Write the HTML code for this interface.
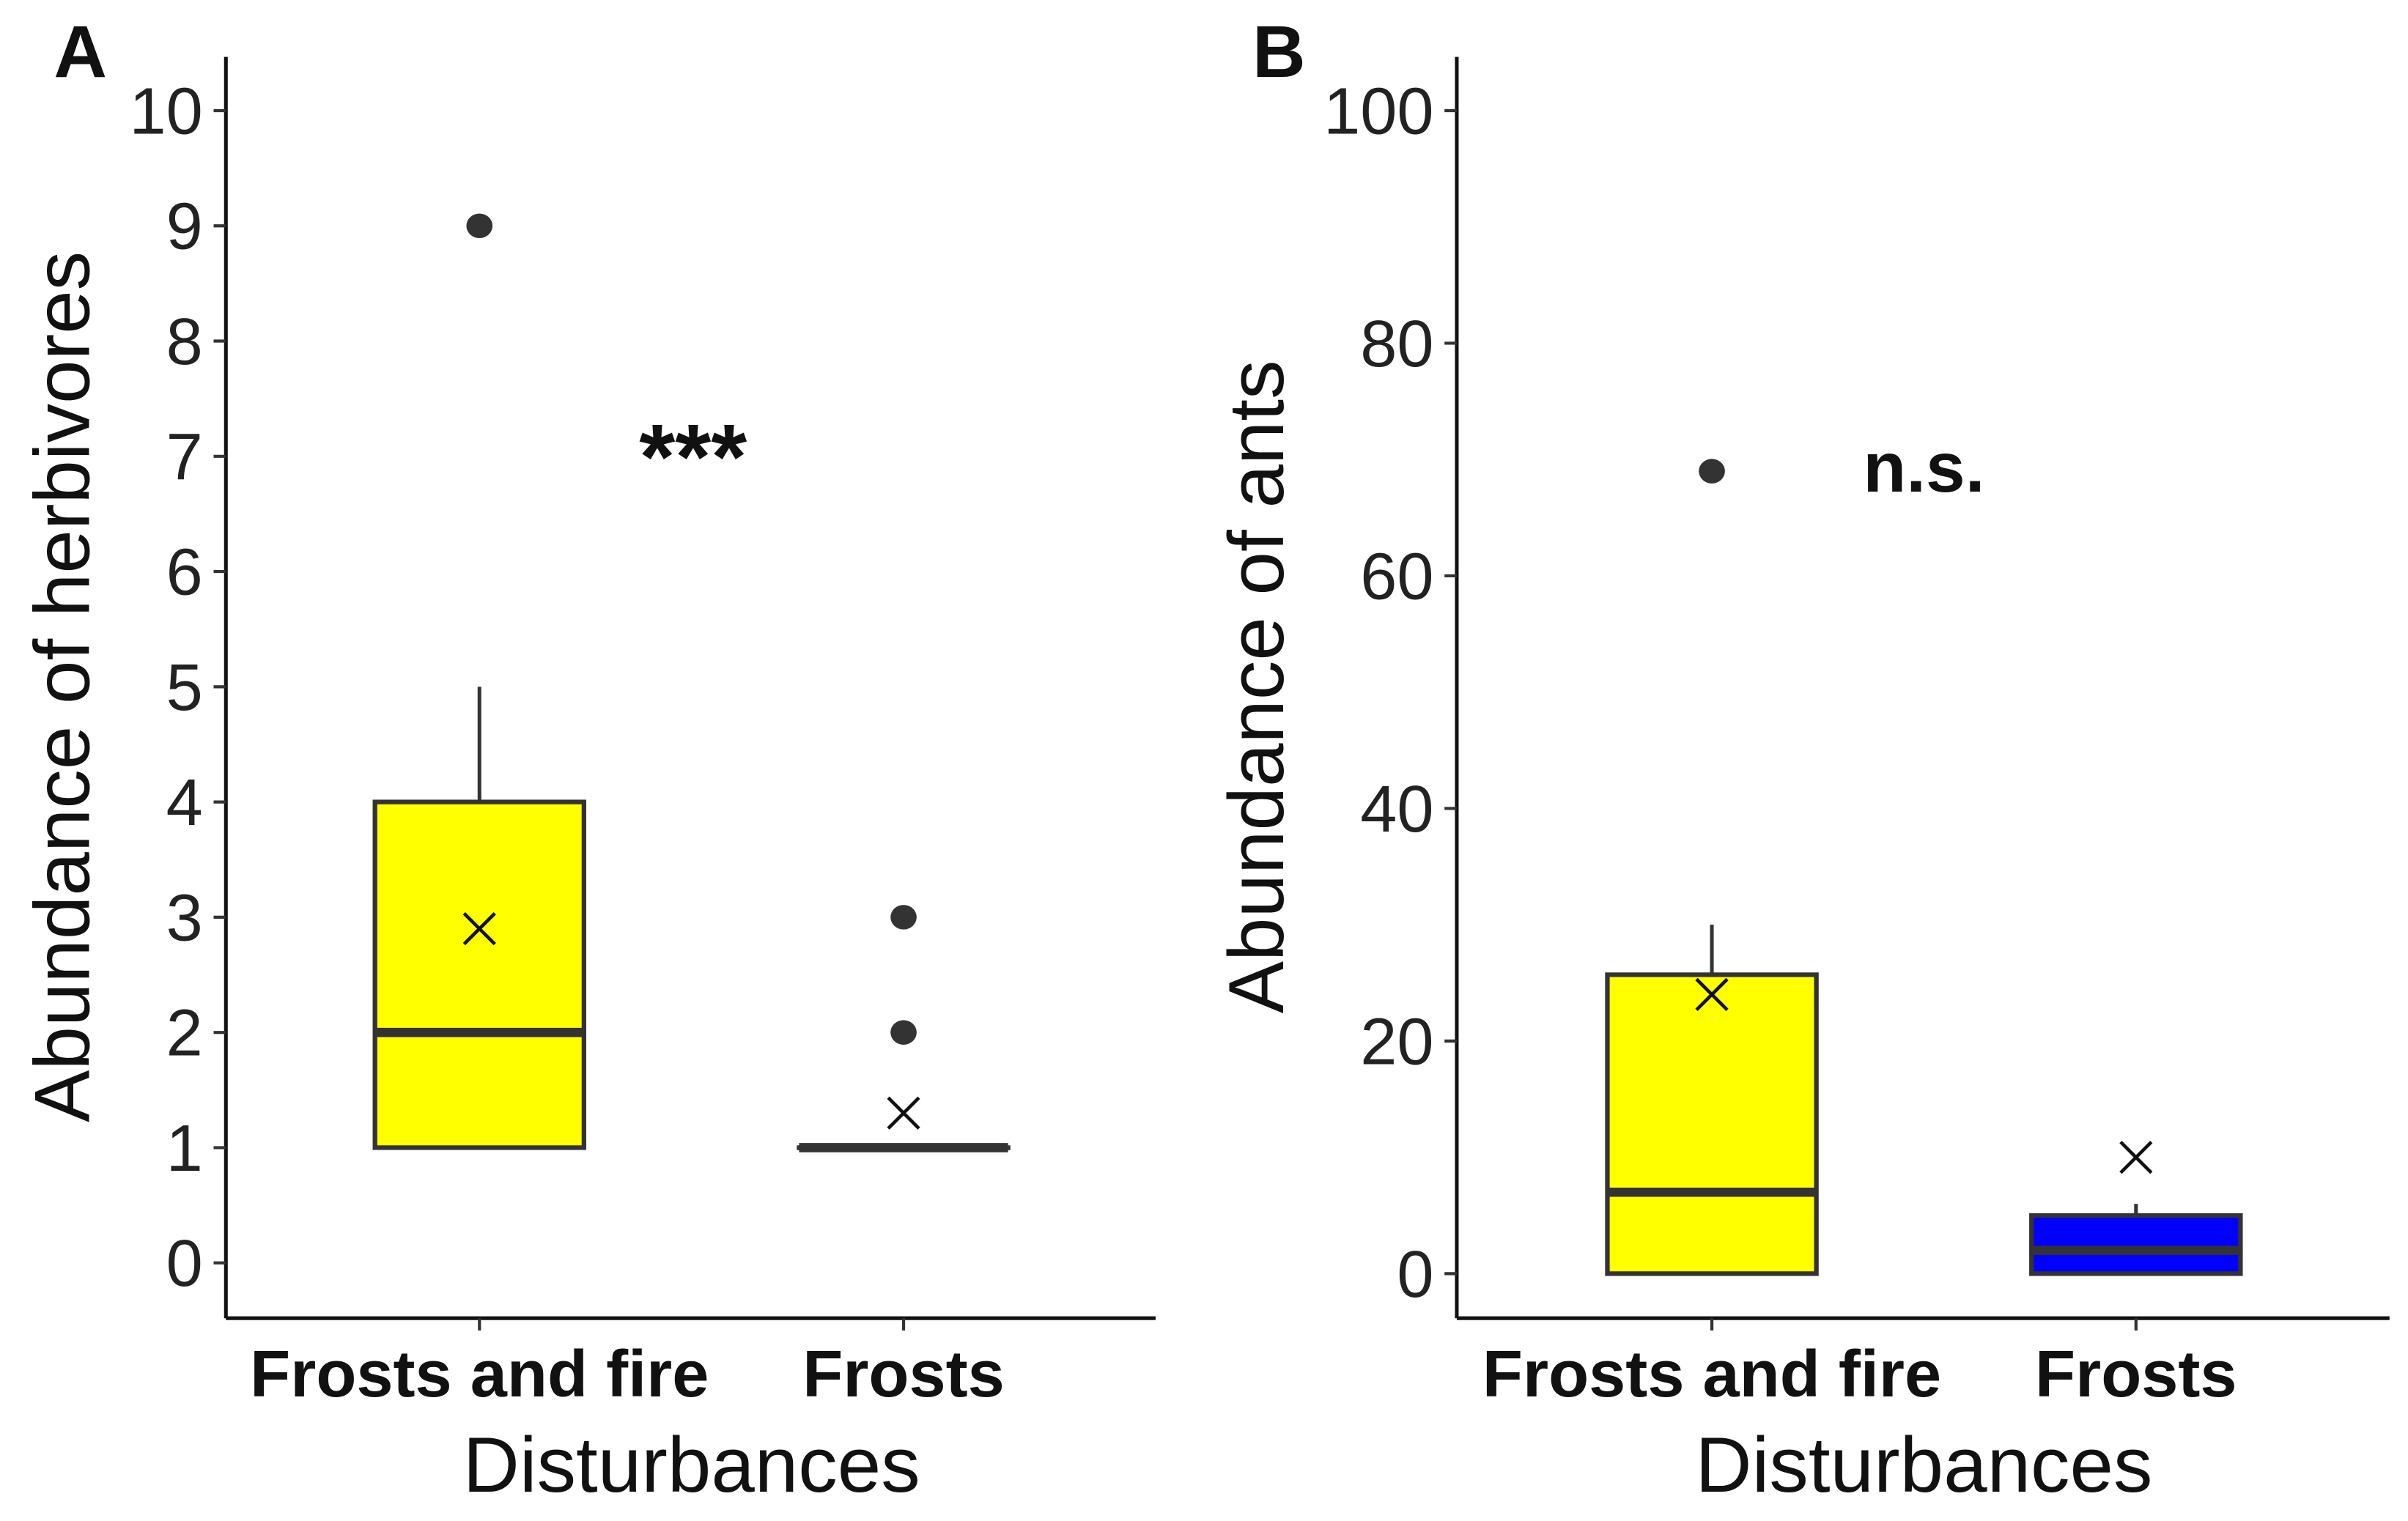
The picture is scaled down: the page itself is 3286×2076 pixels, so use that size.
<!DOCTYPE html>
<html><head><meta charset="utf-8"><style>
html,body{margin:0;padding:0;background:#fff;}
svg{display:block;}
text{font-family:"Liberation Sans",Arial,sans-serif;}
</style></head><body>
<svg id="fig" width="3286" height="2076" viewBox="0 0 1567 990" xmlns="http://www.w3.org/2000/svg"></svg>
<script>
// ---- data ----
const categories = ["Frosts and fire", "Frosts"];
const herbQ1 = [1, 1];
const herbMed = [2, 1];
const herbQ3 = [4, 1];
const herbWhiskLo = [1, 1];
const herbWhiskHi = [5, 1];
const herbMean = [2.9, 1.3];
const herbOutliers = [[9], [2, 3]];
const herbTicks = [0,1,2,3,4,5,6,7,8,9,10];

const antQ1 = [0, 0];
const antMed = [7, 2];
const antQ3 = [25.7, 5];
const antWhiskLo = [0, 0];
const antWhiskHi = [30, 6];
const antMean = [24, 10];
const antOutliers = [[69], []];
const antTicks = [0,20,40,60,80,100];
const fills = ["#ffff00", "#0000ff"];

const NS = "http://www.w3.org/2000/svg";
const svg = document.getElementById("fig");
function mk(tag, attrs, parent, txt){
  const e = document.createElementNS(NS, tag);
  for (const k in attrs) e.setAttribute(k, attrs[k]);
  if (txt !== undefined) e.textContent = txt;
  (parent||svg).appendChild(e);
  return e;
}

function panel(cfg){
  const g = mk("g", {});
  
  
  const y = v => cfg.y0 + (v - 0) * (cfg.yMax - cfg.y0) / cfg.vMax;
  const x = i => cfg.cx[i];
  const ya = mk("line", {x1:cfg.ax, y1:37, x2:cfg.ax, y2:858, stroke:"#111", "stroke-width":2.4}, g);
  
  
  const xa = mk("line", {x1:cfg.ax, y1:858, x2:cfg.axEnd, y2:858, stroke:"#111", "stroke-width":2.4}, g);
  
  
  cfg.ticks.forEach(t => {
    mk("line", {x1:cfg.ax-8, y1:y(t), x2:cfg.ax, y2:y(t), stroke:"#333", "stroke-width":2}, g);
    const tl = mk("text", {x:cfg.ax-15, y:y(t)+15, "text-anchor":"end", "font-size":43, fill:"#222"}, g, String(t));
    
    
  });
  categories.forEach((c, i) => {
    mk("line", {x1:x(i), y1:858, x2:x(i), y2:866, stroke:"#333", "stroke-width":2}, g);
    const cl = mk("text", {x:x(i), y:909, "text-anchor":"middle", "font-size":43, "font-weight":"bold", fill:"#111"}, g, c);
    
    
    const hw = 68;
    const wh = mk("line", {x1:x(i), y1:y(cfg.q3[i]), x2:x(i), y2:y(cfg.wHi[i]), stroke:"#333", "stroke-width":2.4}, g);
    
    
    const wl = mk("line", {x1:x(i), y1:y(cfg.q1[i]), x2:x(i), y2:y(cfg.wLo[i]), stroke:"#333", "stroke-width":2.4}, g);
    
    
    const h = Math.max(0.1, y(cfg.q1[i]) - y(cfg.q3[i]));
    const b = mk("rect", {x:x(i)-hw, y:y(cfg.q3[i]), width:hw*2, height:h, fill:cfg.fills[i], stroke:"#333", "stroke-width":3}, g);
    
    
    const m = mk("line", {x1:x(i)-hw, y1:y(cfg.med[i]), x2:x(i)+hw, y2:y(cfg.med[i]), stroke:"#333", "stroke-width":6}, g);
    
    
    cfg.out[i].forEach(o => {
      const p = mk("ellipse", {cx:x(i), cy:y(o), rx:8.5, ry:8, fill:"#333"}, g);
      
      
    });
    const my = y(cfg.mean[i]), s = 10;
    const mg = mk("path", {d:`M${x(i)-s},${my-s}L${x(i)+s},${my+s}M${x(i)+s},${my-s}L${x(i)-s},${my+s}`, stroke:"#111", "stroke-width":2.2, fill:"none"}, g);
    
    
  });
  const yt = mk("text", {x:0, y:0, transform:`translate(${cfg.ytx},447) rotate(-90)`, "text-anchor":"middle", "font-size":51, fill:"#111"}, g, cfg.ytitle);
  
  
  const xt = mk("text", {x:cfg.xtx, y:971, "text-anchor":"middle", "font-size":51, fill:"#111"}, g, "Disturbances");
  
  
  const lab = mk("text", {x:cfg.lx, y:50, "font-size":48, "font-weight":"bold", fill:"#111"}, g, cfg.letter);
  
  
  const sg = mk("text", {x:cfg.sx, y:cfg.sy, "text-anchor":"middle", "font-size":cfg.sfs, "font-weight":"bold", fill:"#111"}, g, cfg.sig);
  
  
}

panel({name:"panel-a-herbivores", ax:147, axEnd:752, y0:822, yMax:72, vMax:10, cx:[312,588],
  ticks:herbTicks, q1:herbQ1, med:herbMed, q3:herbQ3, wLo:herbWhiskLo, wHi:herbWhiskHi, mean:herbMean, out:herbOutliers,
  fills:["#ffff00","#ffff00"], ytitle:"Abundance of herbivores", ytx:58, xtx:450, lx:35, letter:"A",
  sig:"***", sx:451, sy:318, sfs:60});
panel({name:"panel-b-ants", ax:948, axEnd:1555, y0:829, yMax:72, vMax:100, cx:[1114,1390],
  ticks:antTicks, q1:antQ1, med:antMed, q3:antQ3, wLo:antWhiskLo, wHi:antWhiskHi, mean:antMean, out:antOutliers,
  fills:fills, ytitle:"Abundance of ants", ytx:835, xtx:1252, lx:815, letter:"B",
  sig:"n.s.", sx:1252, sy:320, sfs:46});
</script>
</body></html>
